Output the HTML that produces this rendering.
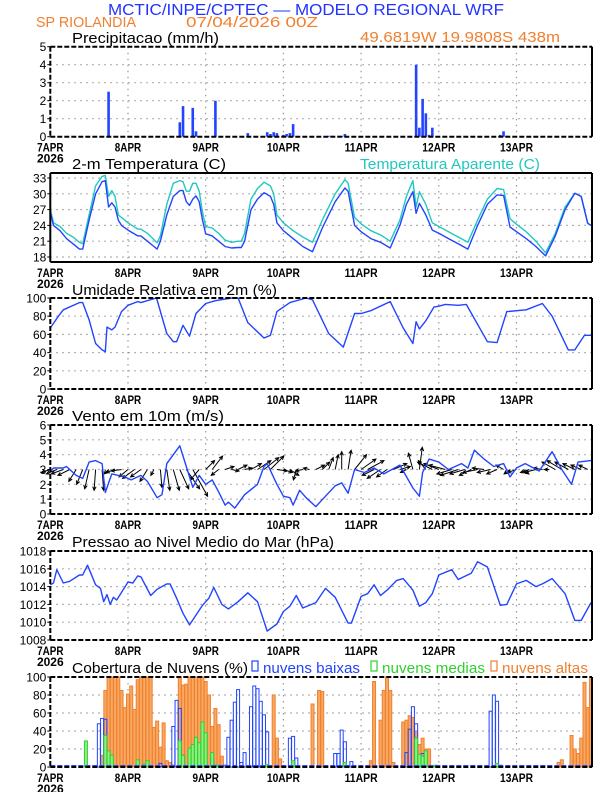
<!DOCTYPE html>
<html><head><meta charset="utf-8"><style>
html,body{margin:0;padding:0;background:#fff;}
svg{display:block;font-family:"Liberation Sans",sans-serif;}
</style></head><body>
<svg id="chart" width="612" height="792" viewBox="0 0 612 792" xmlns="http://www.w3.org/2000/svg">
<rect width="612" height="792" fill="#fff"/>
<text x="108" y="15" font-size="16" fill="#2233ff" textLength="396" lengthAdjust="spacingAndGlyphs">MCTIC/INPE/CPTEC — MODELO REGIONAL WRF</text>
<text x="36" y="27" font-size="15" fill="#f08030" textLength="100" lengthAdjust="spacingAndGlyphs">SP RIOLANDIA</text>
<text x="186" y="27" font-size="15" fill="#f08030" textLength="132" lengthAdjust="spacingAndGlyphs">07/04/2026 00Z</text>
<text x="360" y="42" font-size="15" fill="#f08030" textLength="200" lengthAdjust="spacingAndGlyphs">49.6819W 19.9808S 438m</text>
<g id="plots"></g>
</svg>
<script>
// ---- data ----
const dayLabels = ["7APR","8APR","9APR","10APR","11APR","12APR","13APR"];
const precipHours = [18,40,41,44,45,51,61,67,68,69,70,72,73,74,75,86,87,89,90,91,113,114,115,116,117,118,139,140,141];
const precipVals  = [2.5,0.8,1.7,1.6,0.3,2.0,0.2,0.25,0.15,0.25,0.2,0.1,0.15,0.2,0.7,0.05,0.05,0.05,0.05,0.15,4.0,0.5,2.1,1.3,0.1,0.5,0.1,0.3,0.05];
const tempHours = [0,1,3,5,7,9,10,12,14,16,17,18,19,20,21,22,24,27,28,30,32,33,34,36,38,40,41,42,43,44,45,46,47,48,50,52,54,56,58,59,60,62,64,66,68,69,70,72,75,78,81,84,88,91,92,94,96,99,102,105,108,110,112,113,114,116,118,120,123,126,129,132,135,138,140,142,144,147,150,153,156,159,162,164,166,167];
const tempVals = [26.5,24,23,21.5,20.5,19.5,19.5,25,30,32.3,32.5,27.5,28.3,27.5,25,24,23.1,22,22,21,20,19.5,21,26,29.5,30.6,30.6,28.5,27.8,29,29.6,28.5,25,22.4,22,21,20,19.7,19.8,19.8,21,27,29,30.2,29.5,28,24.5,23,21.5,20,19,23.5,28.5,31.1,30.5,24,22.8,21.5,20.8,19.7,24,28,30.4,26.3,28.2,26,23.1,22.5,21.5,20.5,19.5,24,28,29.8,29.7,23.7,22.8,21.5,20,18.2,22,27,30.1,29.5,24.4,24];
const appVals  = [27,24.5,23.8,22.5,21.8,20.8,20.5,26,31.5,33.3,33.5,29.5,30.6,29.5,26,25.5,24.5,23.3,23.3,22.5,21.3,20.7,22,28,32,32.5,32.3,30.5,30.5,32,32,30.5,26.5,23.8,23.5,22.5,21.2,20.8,21,21,22.5,29,31,32.2,31.5,30,26,24.5,23,21.8,20.8,25,30,32.7,32,25.5,24.3,23,22.2,21,25,29.5,32.5,27.5,30.4,28,24.5,23.8,22.8,21.8,20.8,25,29,31,30.8,25.3,24.2,22.8,21,18.8,22.5,27.5,30.1,29.5,24.4,24];
const rhHours = [0,2.5,4,9,10,12,14,16,17,17.5,19,20,22,24,27,28,32.8,36,38,39,41,43,45,48,51,56,58,61,66,68,70,74,79,81,86,90.5,94,96,99,105,109,112,113,114,116,118.5,120,122,126,128.5,135,138,141,147,152,155,160,162,165,167];
const rhVals  = [67,80,87,95,95,76,50,43,41,68,65,68,85,92,96,95,100,61,52,52,70,58,83,94,97,100,100,73,56,59,85,95,100,98,61,46,83,83,86,96,67,50,74,66,75,90,91,93,92,93,52,51,85,87,94,80,43,43,59,59];
const windHours = [0,1,4,5,8,10,12,14,16,17,19,23,25,28,30,33,34.5,36,38,40,42,44,46,48,50,52,54,55,57,60,64,66,67,70,72,74,75,77,79,82,85,88,90,92,94,97,100,103,108,112,114,115,117,120,123,127,129,131,134,137,140,142,144,146.7,151,155,158,161,163,167];
const windVals  = [2.85,3.1,3.1,3.2,2.6,2.4,3.5,3.6,3.4,1.45,2.7,2.5,2.3,2.6,2.2,1.1,1.3,3.4,4.0,4.6,3.2,1.8,2.6,2.0,2.3,1.5,0.6,0.8,0.4,1.3,2.0,3.2,3.4,2.0,1.2,1.1,0.6,1.6,1.1,0.5,1.2,1.9,2.1,1.4,3.0,2.8,3.1,2.7,3.3,1.75,1.2,2.8,3.7,3.5,3.0,3.4,3.1,4.3,3.7,3.2,3.4,2.5,3.1,3.4,2.9,4.2,3.0,2.0,3.5,3.6];
const arrowHours = [0,2,4,6,8,10,12,14,16,18,20,22,24,26,28,30,32,34,36,38,40,42,44,46,48,50,52,54,56,58,60,62,64,66,68,70,72,74,76,78,80,82,84,86,88,90,92,94,96,98,100,102,104,106,108,110,112,114,116,118,120,122,124,126,128,130,132,134,136,138,140,142,144,146,148,150,152,154,156,158,160,162,164,166];
const arrowU = [-0.6,-0.7,-0.8,-0.8,-0.5,-0.4,-0.3,-0.1,0.1,-0.3,-0.6,-0.7,-0.6,-0.8,-0.7,-0.5,-0.2,0.1,0.2,0.4,0.6,0.9,1.0,-0.6,0.6,0.7,-0.5,0.6,0.5,0.6,0.5,0.7,0.9,1.0,0.9,0.7,0.6,0.6,-0.2,-0.5,-0.4,0.6,0.5,0.3,0.2,0.0,0.2,0.8,1.0,1.1,-0.8,-0.9,-0.7,0.9,0.7,-0.4,-0.3,0.2,-0.5,-1.0,-1.0,-1.1,-1.0,-1.2,-1.0,-0.8,-1.0,-0.8,-0.9,-0.7,-0.5,-0.4,-0.6,0.4,-0.6,-0.8,-0.6,-0.3,-0.9,-1.0,-0.9,-0.8,-0.7,-0.6];
const arrowV = [-0.2,-0.3,-0.3,-0.4,-0.8,-1.0,-1.3,-1.4,-1.4,-0.3,-0.2,-0.1,-0.5,-0.6,-0.5,-0.8,-0.4,-1.2,-1.4,-1.4,-1.3,-1.3,-1.8,-0.7,0.6,0.9,-0.4,0.2,-0.1,0.3,0.1,0.4,0.6,0.8,0.9,-0.1,-0.2,-0.4,-0.7,-0.1,0.1,0.3,0.5,0.8,1.0,1.2,1.3,1.0,0.7,0.6,-0.4,-0.6,-0.5,0.4,0.2,-0.2,1.1,1.5,0.6,0.5,0.4,0.3,-0.3,-0.4,-0.3,-0.4,-0.2,0.1,-0.2,-0.3,0.3,-0.3,-0.2,-0.3,-0.2,-0.2,0.1,0.0,0.5,0.6,0.5,0.4,0.3,0.3];
const presHours = [0,1,2,4,6,9,10,11.5,14,15.5,16.5,17.5,18.5,19.5,20.5,24,25.5,27,28,31,33,36,37,39,41,43,45,47,49,50.5,53,55,58,61,64,67,70,72,74,76,78,82,85,88,92,93,96,98,100,102,104,107,109,112,114,116,118,120,124,126,130,132,135,139,141,144,147,150,152,155,159,162,164,167];
const presVals  = [1014.2,1014.4,1015.9,1014.4,1014.6,1015.3,1015.3,1016.4,1014.2,1013.8,1012.3,1013.1,1012.0,1012.8,1012.5,1014.5,1014.4,1015.2,1015.1,1013.0,1013.7,1014.3,1014.3,1012.7,1011.0,1009.7,1010.8,1011.9,1012.7,1013.9,1012.0,1011.5,1012.3,1013.3,1012.3,1009.0,1009.8,1011.2,1011.8,1013.0,1011.6,1012.2,1013.8,1012.8,1009.9,1009.9,1012.9,1013.2,1014.2,1013.0,1013.6,1014.7,1014.9,1013.6,1011.8,1012.2,1013.2,1015.3,1015.9,1014.8,1015.5,1016.8,1016.2,1011.9,1012.0,1014.3,1014.7,1014.0,1014.3,1014.9,1013.2,1010.2,1010.2,1012.2];
const highHours = [16,17,18,19,20,21,22,23,24,25,26,27,28,29,30,31,32,33,34,35,36,37,38,40,41,42,43,44,45,46,47,48,49,50,51,52,53,69,70,71,81,83,84,99,100,102,103,104,105,106,109,110,111,112,113,114,115,116,117,157,158,161,162,163,164,165,166,167];
const highVals  = [13,85,100,100,100,100,85,66,81,90,64,97,100,100,100,100,44,51,22,49,7,5,2,100,91,92,100,100,100,100,100,95,80,45,65,47,12,80,32,9,70,85,84,7,95,52,85,100,85,5,50,52,57,55,40,25,32,20,20,5,8,35,20,15,32,94,66,98];
const lowHours = [15,16,17,18,34,38,39,40,41,43,46,50,54,55,56,57,58,59,60,62,63,64,65,66,67,72,74,75,76,88,89,90,91,93,110,111,112,113,114,115,136,137,138,139];
const lowVals  = [48,54,53,8,4,45,74,65,13,4,4,10,2,33,52,72,86,5,16,67,90,87,73,58,39,1,32,34,10,15,15,41,28,6,16,42,67,48,7,15,62,80,73,2];
const midHours = [11,17,18,19,27,29,30,40,41,43,44,45,46,47,48,50,51,52,67,75,91,113,114,115,116,119,138];
const midVals  = [29,35,18,13,8,3,7,29,13,21,25,33,27,50,38,16,2,2,3,7,5,32,14,12,18,2,4];

// ---- helpers ----
const NS = "http://www.w3.org/2000/svg";
const root = document.getElementById("plots");
const X0 = 50.3, XW = 3.2375, XR = 592;
const xs = h => X0 + h * XW;
function el(tag, attrs, parent) {
  const e = document.createElementNS(NS, tag);
  for (const k in attrs) e.setAttribute(k, attrs[k]);
  (parent || root).appendChild(e);
  return e;
}
function panel(name, top, bot, vmin, vmax, ticks, solid) {
  const g = el("g", {});
  
  
  const ys = v => bot - (v - vmin) / (vmax - vmin) * (bot - top);
  // grid
  for (const t of ticks) {
    const y = ys(t);
    if (y > top + 1 && y < bot - 1) {
      const gl = el("line", {x1: X0, x2: XR, y1: y, y2: y, stroke: "#999", "stroke-width": 1.2, "stroke-dasharray": "1.5,4.5"}, g);
      
      
    }
    const tk = el("line", {x1: X0 - 3, x2: X0, y1: y, y2: y, stroke: "#000", "stroke-width": 1}, g);
    
    
    const tl = el("text", {x: X0 - 4, y: y + 4.5, "font-size": 12, "text-anchor": "end", fill: "#000"}, g);
    tl.textContent = t;
    
    
  }
  dayLabels.forEach((d, i) => {
    const x = xs(i * 24);
    if (i > 0) {
      const vl = el("line", {x1: x, x2: x, y1: top, y2: bot, stroke: "#999", "stroke-width": 1.2, "stroke-dasharray": "1.5,4.5"}, g);
      
      
    }
    const xl = el("text", {x: x, y: bot + 15, "font-size": 12, "text-anchor": "middle", fill: "#000", "font-weight": "bold", textLength: d.length * 6.6, lengthAdjust: "spacingAndGlyphs"}, g);
    xl.textContent = d;
    
    
  });
  const yr = el("text", {x: X0, y: bot + 26, "font-size": 12, "text-anchor": "middle", fill: "#000", "font-weight": "bold"}, g);
  yr.textContent = "2026";
  
  
  return {g, ys, top, bot, solid};
}
function frame(p) {
  const dash = p.solid ? "none" : "5,2";
  const sides = [[X0, p.top, XR, p.top], [X0, p.bot, XR, p.bot], [X0, p.top, X0, p.bot]];
  for (const s of sides) {
    const f = el("line", {x1: s[0], y1: s[1], x2: s[2], y2: s[3], stroke: "#000", "stroke-width": 2, "stroke-dasharray": dash}, p.g);
    
    
  }
  const r = el("line", {x1: XR, y1: p.top, x2: XR, y2: p.bot, stroke: "#000", "stroke-width": 2}, p.g);
  
  
}
function line(p, hours, vals, color, name) {
  const pts = hours.map((h, i) => xs(h).toFixed(1) + "," + p.ys(vals[i]).toFixed(1)).join(" ");
  const l = el("polyline", {points: pts, fill: "none", stroke: color, "stroke-width": 1.4, "stroke-linejoin": "round"}, p.g);
  
  
}
function title(txt, x, y, w, color, name) {
  const t = el("text", {x: x, y: y, "font-size": 15, fill: color, textLength: w, lengthAdjust: "spacingAndGlyphs"});
  t.textContent = txt;
  
  
  return t;
}

// ---- precipitation ----
const pP = panel("precipitation", 46.7, 136.7, 0, 5, [0,1,2,3,4,5]);
precipHours.forEach((h, i) => {
  const y = pP.ys(precipVals[i]);
  const b = el("rect", {x: xs(h) - 1.3, y: y, width: 2.6, height: pP.bot - y, fill: "#2244ff"}, pP.g);
  
  
});
frame(pP);
title("Precipitacao (mm/h)", 72, 43, 147, "#000", "precip-title");

// ---- temperature ----
const pT = panel("temperature", 173, 262, 18 - 5 / 5.27 * 1, 33 + 5 / 5.27, [18,21,24,27,30,33], true);
// scale: 33 at y178, 18 at y257
pT.ys = v => 257 - (v - 18) * 5.2667;
pT.g.innerHTML = "";
(function () {
  const g = pT.g;
  for (const t of [18,21,24,27,30,33]) {
    const y = pT.ys(t);
    const gl = el("line", {x1: X0, x2: XR, y1: y, y2: y, stroke: "#999", "stroke-width": 1.2, "stroke-dasharray": "1.5,4.5"}, g);
    
    
    const tk = el("line", {x1: X0 - 3, x2: X0, y1: y, y2: y, stroke: "#000"}, g);
    
    
    const tl = el("text", {x: X0 - 4, y: y + 4.5, "font-size": 12, "text-anchor": "end"}, g);
    tl.textContent = t;
    
    
  }
  dayLabels.forEach((d, i) => {
    const x = xs(i * 24);
    if (i > 0) {
      const vl = el("line", {x1: x, x2: x, y1: 173, y2: 262, stroke: "#999", "stroke-width": 1.2, "stroke-dasharray": "1.5,4.5"}, g);
      
      
    }
    const xl = el("text", {x: x, y: 277, "font-size": 12, "text-anchor": "middle", "font-weight": "bold", textLength: d.length * 6.6, lengthAdjust: "spacingAndGlyphs"}, g);
    xl.textContent = d;
    
    
  });
  const yr = el("text", {x: X0, y: 288, "font-size": 12, "text-anchor": "middle", "font-weight": "bold"}, g);
  yr.textContent = "2026";
  
  
})();
line(pT, tempHours, appVals, "#20c8c0", "apparent-temperature-line");
line(pT, tempHours, tempVals, "#2244ff", "temperature-line");
frame(pT);
title("2-m Temperatura (C)", 72, 169, 154, "#000", "temperature-title");
title("Temperatura Aparente (C)", 360, 169, 180, "#20c8c0", "apparent-temperature-legend");

// ---- humidity ----
const pH = panel("humidity", 298, 389, 0, 100, [0,20,40,60,80,100]);
line(pH, rhHours, rhVals, "#2244ff", "humidity-line");
frame(pH);
title("Umidade Relativa em 2m (%)", 72, 295, 205, "#000", "humidity-title");

// ---- wind ----
const pW = panel("wind", 425, 514, 0, 6, [0,1,2,3,4,5,6]);
const base = pW.ys(3), uS = (pW.bot - pW.top) / 6;
arrowHours.forEach((h, i) => {
  const x1 = xs(h), y1 = base, x2 = x1 + arrowU[i] * uS, y2 = y1 - arrowV[i] * uS;
  const a = Math.atan2(y2 - y1, x2 - x1);
  const hl = 4;
  const d = `M${x1.toFixed(1)},${y1.toFixed(1)}L${x2.toFixed(1)},${y2.toFixed(1)}M${(x2 - hl * Math.cos(a - 0.45)).toFixed(1)},${(y2 - hl * Math.sin(a - 0.45)).toFixed(1)}L${x2.toFixed(1)},${y2.toFixed(1)}L${(x2 - hl * Math.cos(a + 0.45)).toFixed(1)},${(y2 - hl * Math.sin(a + 0.45)).toFixed(1)}`;
  const ar = el("path", {d: d, stroke: "#000", "stroke-width": 1, fill: "none"}, pW.g);
  
  
});
line(pW, windHours, windVals, "#2244ff", "wind-speed-line");
frame(pW);
title("Vento em 10m (m/s)", 72, 421, 152, "#000", "wind-title");

// ---- pressure ----
const pPr = panel("pressure", 551, 640, 1008, 1018, [1008,1010,1012,1014,1016,1018]);
line(pPr, presHours, presVals, "#2244ff", "pressure-line");
frame(pPr);
title("Pressao ao Nivel Medio do Mar (hPa)", 72, 547, 262, "#000", "pressure-title");

// ---- clouds ----
const pC = panel("clouds", 677, 767, 0, 100, [0,20,40,60,80,100]);
function bars(hours, vals, fill, stroke, name) {
  hours.forEach((h, i) => {
    const y = pC.ys(vals[i]);
    const b = el("rect", {x: xs(h) - 1.5, y: y, width: 3, height: pC.bot - y, fill: fill, stroke: stroke, "stroke-width": 1}, pC.g);
    
    
  });
}
bars(highHours, highVals, "#f8a860", "#f08030", "high-cloud-bar");
bars(lowHours, lowVals, "none", "#2244ff", "low-cloud-bar");
bars(midHours, midVals, "#90ee80", "#30d030", "mid-cloud-bar");
const bl = el("line", {x1: X0, x2: XR, y1: 766, y2: 766, stroke: "#2244ff", "stroke-width": 2, "stroke-dasharray": "5,2"}, pC.g);


frame(pC);
title("Cobertura de Nuvens (%)", 72, 673, 176, "#000", "clouds-title");
const lg = [[252, "#2244ff", "none", 263, "nuvens baixas", 97, "legend-low-clouds"],
            [371, "#30d030", "none", 382, "nuvens medias", 103, "legend-mid-clouds"],
            [491, "#f08030", "none", 502, "nuvens altas", 86, "legend-high-clouds"]];
for (const L of lg) {
  const r = el("rect", {x: L[0], y: 661, width: 6, height: 10, fill: "none", stroke: L[1], "stroke-width": 1.2});
  
  
  title(L[4], L[3], 673, L[5], L[1], L[6]);
}
</script>
</body></html>
